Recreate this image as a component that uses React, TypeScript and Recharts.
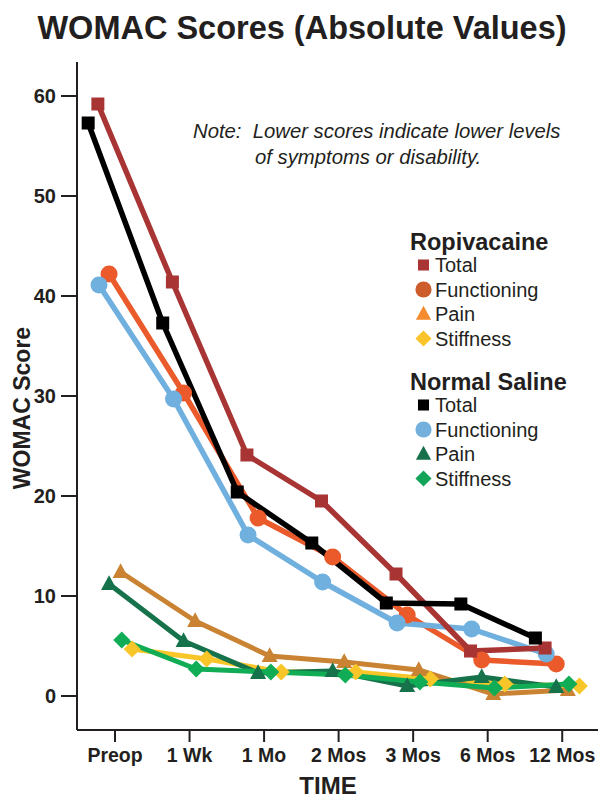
import { Line, LineChart, XAxis, YAxis } from 'recharts';

const timeLabels = ['Preop', '1 Wk', '1 Mo', '2 Mos', '3 Mos', '6 Mos', '12 Mos'];
const timeTicks = [0, 1, 2, 3, 4, 5, 6];
const scoreTicks = [0, 10, 20, 30, 40, 50, 60];

// Ropivacaine group
const ropiTotal = [59.2, 41.4, 24.1, 19.5, 12.2, 4.5, 4.8];
const ropiFunctioning = [42.2, 30.3, 17.8, 13.9, 8.1, 3.6, 3.2];
const ropiPain = [12.4, 7.5, 4.0, 3.4, 2.6, 0.2, 0.6];
const ropiStiffness = [4.7, 3.7, 2.4, 2.4, 1.7, 1.2, 1.0];

// Normal saline group
const salineTotal = [57.3, 37.3, 20.4, 15.3, 9.3, 9.2, 5.8];
const salineFunctioning = [41.1, 29.7, 16.1, 11.4, 7.3, 6.7, 4.2];
const salinePain = [11.2, 5.5, 2.3, 2.5, 1.0, 1.9, 0.9];
const salineStiffness = [5.6, 2.7, 2.4, 2.1, 1.4, 0.8, 1.2];

type Shape = 'square' | 'circle' | 'triangle' | 'diamond';

type Series = {
  key: string;
  label: string;
  values: number[];
  color: string;
  legendColor: string;
  shape: Shape;
  width: number;
  shift: number;
};

// draw order: first is bottom
const series: Series[] = [
  { key: 'rs', label: 'Stiffness', values: ropiStiffness, color: '#f9c62a', legendColor: '#fbc42a', shape: 'diamond', width: 5, shift: 0.23 },
  { key: 'rp', label: 'Pain', values: ropiPain, color: '#c98332', legendColor: '#f58a2e', shape: 'triangle', width: 5, shift: 0.075 },
  { key: 'sp', label: 'Pain', values: salinePain, color: '#16724a', legendColor: '#17704a', shape: 'triangle', width: 5, shift: -0.08 },
  { key: 'ss', label: 'Stiffness', values: salineStiffness, color: '#10ad56', legendColor: '#12a55a', shape: 'diamond', width: 5, shift: 0.09 },
  { key: 'rf', label: 'Functioning', values: ropiFunctioning, color: '#ea5a2a', legendColor: '#cd5c2c', shape: 'circle', width: 5.5, shift: -0.08 },
  { key: 'sf', label: 'Functioning', values: salineFunctioning, color: '#70b0df', legendColor: '#73b0dd', shape: 'circle', width: 5.5, shift: -0.215 },
  { key: 'rt', label: 'Total', values: ropiTotal, color: '#a83434', legendColor: '#a83434', shape: 'square', width: 5.5, shift: -0.23 },
  { key: 'st', label: 'Total', values: salineTotal, color: '#000000', legendColor: '#000000', shape: 'square', width: 5.5, shift: -0.36 },
];

const ropiLegend = ['rt', 'rf', 'rp', 'rs'];
const salineLegend = ['st', 'sf', 'sp', 'ss'];

function Marker({ shape, cx, cy, color, size = 1 }: { shape: Shape; cx: number; cy: number; color: string; size?: number }) {
  if (shape === 'square') {
    const s = 13 * size;
    return <rect x={cx - s / 2} y={cy - s / 2} width={s} height={s} fill={color} />;
  }
  if (shape === 'circle') return <circle cx={cx} cy={cy} r={8.5 * size} fill={color} />;
  if (shape === 'triangle') {
    const h = 8 * size;
    return <polygon points={`${cx},${cy - h * 1.1} ${cx - h},${cy + h * 0.75} ${cx + h},${cy + h * 0.75}`} fill={color} />;
  }
  const d = 8.5 * size;
  return <polygon points={`${cx},${cy - d} ${cx + d},${cy} ${cx},${cy + d} ${cx - d},${cy}`} fill={color} />;
}

const textColor = '#231f20';
const font = '"Liberation Sans", Arial, sans-serif';

function LegendBlock({ title, keys, titleY }: { title: string; keys: string[]; titleY: number }) {
  const rowYs = [22, 46.5, 71, 95.5];
  return (
    <g>
      <text x={410} y={titleY} fontSize={23.5} fontWeight="bold" fill={textColor}>{title}</text>
      {keys.map((k, i) => {
        const s = series.find((it) => it.key === k)!;
        const y = titleY + rowYs[i];
        return (
          <g key={k}>
            <Marker shape={s.shape} cx={423.5} cy={y - 7} color={s.legendColor} size={s.shape === 'square' ? 0.85 : 0.95} />
            <text x={435} y={y} fontSize={20} fill={textColor}>{s.label}</text>
          </g>
        );
      })}
    </g>
  );
}

export default function App() {
  return (
    <div style={{ position: 'absolute', left: 0, top: 0, width: 614, height: 802, background: '#fff', fontFamily: font }}>
      <LineChart width={614} height={802} margin={{ top: 62, right: 16, bottom: 42, left: 17 }}>
        <XAxis
          type="number"
          dataKey="x"
          domain={[-0.51, 6.48]}
          ticks={timeTicks}
          tickFormatter={(v) => timeLabels[v] ?? ''}
          height={30}
          tickSize={12}
          tickMargin={6}
          stroke={textColor}
          strokeWidth={2}
          tick={{ fill: textColor, fontSize: 19.5, fontWeight: 'bold', fontFamily: font }}
          interval={0}
        />
        <YAxis
          type="number"
          domain={[-3.4, 63.4]}
          ticks={scoreTicks}
          width={60}
          tickSize={16}
          tickMargin={5}
          stroke={textColor}
          strokeWidth={2}
          tick={{ fill: textColor, fontSize: 20, fontWeight: 'bold', fontFamily: font }}
          interval={0}
        />
        {series.map((s) => (
          <Line
            key={s.key}
            data={s.values.map((y, i) => ({ x: i + s.shift, y }))}
            dataKey="y"
            type="linear"
            stroke={s.color}
            strokeWidth={s.width}
            strokeLinejoin="round"
            isAnimationActive={false}
            dot={(p: any) => <Marker key={`${s.key}-${p.index}`} shape={s.shape} cx={p.cx} cy={p.cy} color={s.color} />}
            activeDot={false}
          />
        ))}
      </LineChart>
      <svg width={614} height={802} style={{ position: 'absolute', left: 0, top: 0, pointerEvents: 'none', fontFamily: font }}>
        <text x={302} y={39} textAnchor="middle" fontSize={32.5} fontWeight="bold" fill={textColor}>
          WOMAC Scores (Absolute Values)
        </text>
        <text x={193} y={138} fontSize={20.3} fontStyle="italic" fill={textColor}>
          {'Note:\u00a0 Lower scores indicate lower levels'}
        </text>
        <text x={255} y={164} fontSize={20.3} fontStyle="italic" fill={textColor}>
          of symptoms or disability.
        </text>
        <text x={30} y={408} transform="rotate(-90 30 408)" textAnchor="middle" fontSize={23} fontWeight="bold" fill={textColor}>
          WOMAC Score
        </text>
        <text x={328} y={794} textAnchor="middle" fontSize={24} fontWeight="bold" fill={textColor}>
          TIME
        </text>
        <LegendBlock title="Ropivacaine" keys={ropiLegend} titleY={250} />
        <LegendBlock title="Normal Saline" keys={salineLegend} titleY={390} />
      </svg>
    </div>
  );
}
